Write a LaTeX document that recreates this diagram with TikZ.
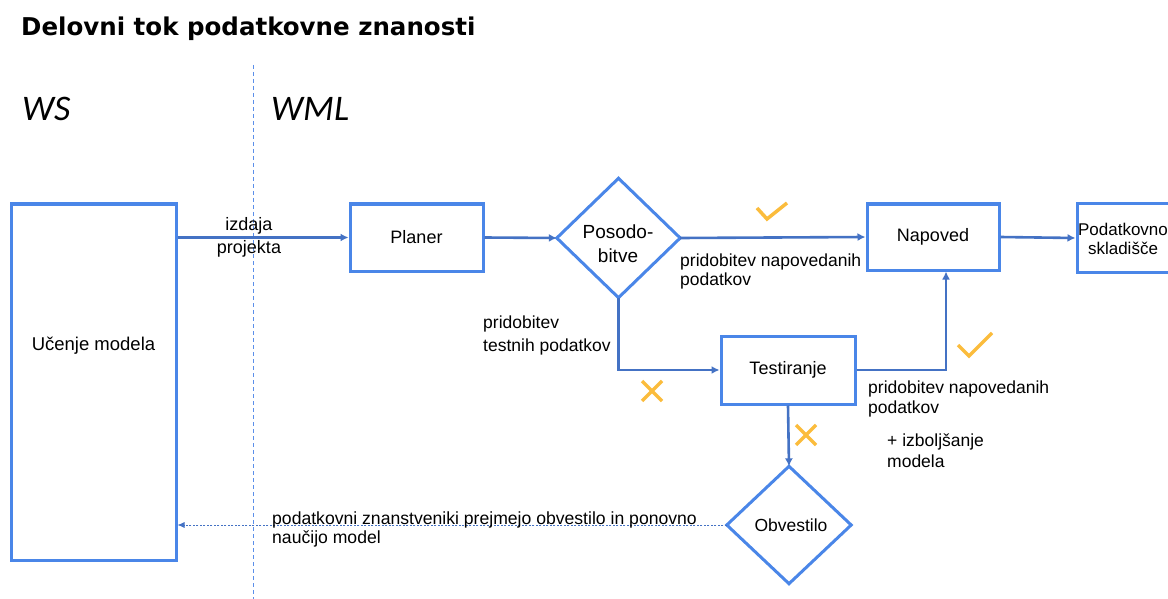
\documentclass[tikz,border=0pt]{standalone}
\usepackage{fontspec}
\setmainfont{Liberation Sans}
\newfontfamily\titlefont{DejaVu Sans}
\newfontfamily\laneFont{Carlito}
\usetikzlibrary{arrows.meta}
\definecolor{boxblue}{HTML}{4A86E8}
\definecolor{arrblue}{HTML}{4472C4}
\definecolor{laneblue}{HTML}{5B8FEA}
\definecolor{markorange}{HTML}{FBBC3C}
\tikzset{
  box/.style={draw=boxblue, line width=3pt, fill=white, inner sep=0pt, font=\fontsize{18}{22}\selectfont},
  diaframe/.style={draw=boxblue, line width=3pt, line join=miter},
  flow/.style={draw=arrblue, line width=2.6pt, -{Latex[length=8pt,width=8pt]}},
  back/.style={draw=arrblue, line width=0.8pt, dash pattern=on 2pt off 1.5pt, -{Latex[length=7pt,width=6pt]}},
  lbl/.style={inner sep=0pt, align=left, anchor=base west},
  txt/.style={inner sep=0pt, align=center},
  okmark/.style={draw=markorange, line width=3.5pt},
}
\begin{document}
\begin{tikzpicture}[x=1pt,y=-1pt]
\clip (0,0) rectangle (1168,599);
\useasboundingbox (0,0) rectangle (1168,599);
\fill[white] (0,0) rectangle (1168,599);
% title and lanes
\node[anchor=west, inner sep=0pt, font=\titlefont\bfseries\fontsize{24.5}{28}\selectfont] (title) at (21,29) {Delovni tok podatkovne znanosti};
\node[anchor=west, inner sep=0pt, font=\laneFont\itshape\fontsize{36}{40}\selectfont] (ws) at (22,109) {WS};
\node[anchor=west, inner sep=0pt, font=\laneFont\itshape\fontsize{36}{40}\selectfont] (wml) at (271,109) {WML};
\coordinate (laneTop) at (253,65);
\coordinate (laneBot) at (253,599);
\draw[laneblue, line width=1pt, dash pattern=on 4pt off 3pt] (laneTop) -- (laneBot);
% nodes
\node[box, minimum width=165pt, minimum height=356pt] (ucenje) at (93.5,382) {};
\node[txt, font=\fontsize{18.5}{22}\selectfont] (ucenjeTxt) at (93.5,346) {Učenje modela};
\node[box, minimum width=133pt, minimum height=67pt] (planer) at (416.5,237.5) {Planer};
\node[minimum width=123pt, minimum height=119pt, inner sep=0pt] (posod) at (618.5,238) {};
\draw[diaframe, fill=white] (posod.west) -- (posod.north) -- (posod.east) -- (posod.south) -- cycle;
\node[txt, font=\fontsize{19}{24}\selectfont] (posodTxt) at (618,244) {Posodo-\\bitve};
\node[box, minimum width=132pt, minimum height=66pt] (napoved) at (933,237) {Napoved};
\node[box, minimum width=100pt, minimum height=68pt] (sklad) at (1127,238) {};
\node[txt, font=\fontsize{17}{19}\selectfont] (skladTxt) at (1123,239) {Podatkovno\\skladišče};
\node[box, minimum width=134pt, minimum height=68pt] (test) at (788,370) {Testiranje};
\node[minimum width=124pt, minimum height=117pt, inner sep=0pt] (obv) at (789,525) {};
\draw[diaframe, fill=white] (obv.west) -- (obv.north) -- (obv.east) -- (obv.south) -- cycle;
\node[txt, font=\fontsize{17.5}{22}\selectfont] (obvTxt) at (791,525) {Obvestilo};
% connectors
\draw[flow] (ucenje.east |- planer.west) -- (planer.west);
\draw[flow] (planer.east) -- (posod.west);
\draw[flow] (posod.east) -- (napoved.west);
\draw[flow] (napoved.east) -- (sklad.west);
\draw[flow] (posod.south) |- (test.west);
\coordinate (upTurn) at (946,370);
\draw[flow] (test.east) -- (upTurn) -- (upTurn |- napoved.south);
\draw[flow] (test.south) -- (obv.north);
\draw[back] (obv.west) -- (ucenje.east |- obv.west);
% labels (anchored at the baseline of the last line)
\node[txt, font=\fontsize{18}{23}\selectfont] (l1) at (249,237) {izdaja\\projekta};
\node[lbl, font=\fontsize{17.5}{18.5}\selectfont] (l2) at (680,285) {pridobitev napovedanih\\podatkov};
\node[lbl, font=\fontsize{17.5}{23}\selectfont] (l3) at (483,351) {pridobitev\\testnih podatkov};
\node[lbl, font=\fontsize{17.5}{20}\selectfont] (l4) at (868,413) {pridobitev napovedanih\\podatkov};
\node[lbl, font=\fontsize{17.5}{21}\selectfont] (l5) at (887,467) {+ izboljšanje\\modela};
\node[lbl, font=\fontsize{17.6}{18.5}\selectfont] (l6) at (272,543) {podatkovni znanstveniki prejmejo obvestilo in ponovno\\naučijo model};
% marks
\draw[okmark] (757,208) -- (767,219) -- (787,203);
\draw[okmark] (958,345) -- (969,356) -- (992,333);
\draw[okmark] (642,381) -- (662,401) (642,401) -- (662,381);
\draw[okmark] (796,425) -- (816,445) (796,445) -- (816,425);
\end{tikzpicture}
\end{document}
